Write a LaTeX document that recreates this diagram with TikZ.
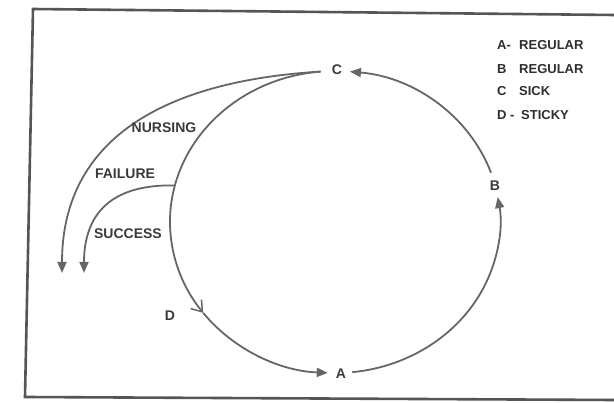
\documentclass[tikz,border=0pt]{standalone}
\usepackage{fontspec}
\setmainfont{Liberation Sans}
\usetikzlibrary{arrows.meta}
\definecolor{ln}{HTML}{666666}
\definecolor{tx}{HTML}{3A3A3A}
\definecolor{fr}{HTML}{555555}
\begin{document}
\begin{tikzpicture}[x=1pt,y=-1pt,
  loop/.style={draw=ln,line width=1.8pt},
  tip/.style={-{Triangle[length=11pt,width=9pt]}},
  opentip/.style={-{Straight Barb[length=10pt,width=14pt,line width=1.5pt]}},
  lab/.style={text=tx,font=\fontsize{14}{14}\selectfont\bfseries,inner sep=1pt},
  leg/.style={text=tx!80!black,font=\fontsize{13}{13}\selectfont\bfseries,inner sep=0pt,anchor=west}]
\useasboundingbox (0,0) rectangle (614,403);
% frame
\draw[fr,line width=2.6pt] (614,15) -- (33,9) -- (25,397) -- (614,400);
% state labels
\node[lab] (A) at (341,374) {A};
\node[lab] (B) at (495,186) {B};
\node[lab] (C) at (337,70) {C};
\node[lab] (D) at (170,316) {D};
% points on the ellipse (visual angle v: (335+165cos v, 222-151 sin v))
\coordinate (pA) at ({335+165*cos(276)},{222-151*sin(276)});
\coordinate (pB) at ({335+165*cos(19)},{222-151*sin(19)});
\coordinate (pC) at ({335+165*cos(95)},{222-151*sin(95)});
\coordinate (pD) at ({335+165*cos(217)},{222-151*sin(217)});
\coordinate (pF) at ({335+165*cos(166)},{222-151*sin(166)});
% loop
\draw[loop,tip] (pA) arc[start angle=-276,end angle=-369.5,x radius=165,y radius=151];
\draw[loop,tip] (pB) arc[start angle=-19,end angle=-84.8,x radius=165,y radius=151];
\draw[loop,opentip] (pC) arc[start angle=-95,end angle=-217,x radius=165,y radius=151];
\draw[loop,tip] (pD) arc[start angle=-217,end angle=-267.5,x radius=165,y radius=151];
% exits
\coordinate (n1) at (62,273);
\coordinate (n2) at (84,273);
\draw[loop,tip] (pC) .. controls (150,82) and (62,148) .. (n1);
\draw[loop,tip] (pF) .. controls (110,184) and (84,215) .. (n2);
% branch labels
\node[lab] (nurs) at (164,128) {NURSING};
\node[lab] (fail) at (125,174) {FAILURE};
\node[lab] (succ) at (128,234) {SUCCESS};
% legend
\node[leg] (l1) at (497,45) {A-};
\node[leg] (l2) at (497,69) {B};
\node[leg] (l3) at (497,91) {C};
\node[leg] (l4) at (497,115) {D -};
\node[leg] (t1) at (519,45) {REGULAR};
\node[leg] (t2) at (519,69) {REGULAR};
\node[leg] (t3) at (519,91) {SICK};
\node[leg] (t4) at (521,115) {STICKY};
\end{tikzpicture}
\end{document}
